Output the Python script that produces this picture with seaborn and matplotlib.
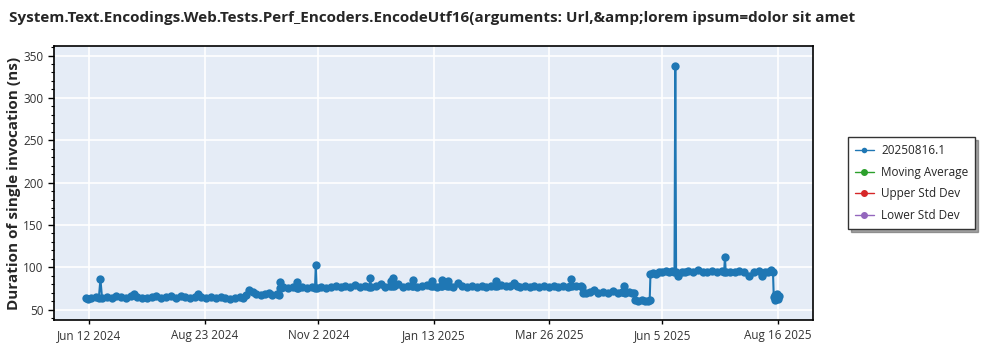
import matplotlib
matplotlib.use("Agg")
import matplotlib.pyplot as plt
import matplotlib.dates as mdates
from matplotlib.ticker import MultipleLocator
import pandas as pd
import seaborn as sns

title = "System.Text.Encodings.Web.Tests.Perf_Encoders.EncodeUtf16(arguments: Url,&amp;lorem ipsum=dolor sit amet"
y_label = "Duration of single invocation (ns)"
series_name = "20250816.1"
legend_extra = ["Moving Average", "Upper Std Dev", "Lower Std Dev"]
legend_colors = ["#1f77b4", "#2ca02c", "#d62728", "#9467bd"]

dates = [
    "2024-06-10", "2024-06-11", "2024-06-13", "2024-06-16", "2024-06-18", "2024-06-19", "2024-06-20",
    "2024-06-23", "2024-06-26", "2024-06-29", "2024-07-02", "2024-07-05", "2024-07-08", "2024-07-10",
    "2024-07-12", "2024-07-15", "2024-07-18", "2024-07-21", "2024-07-24", "2024-07-27", "2024-07-30",
    "2024-08-02", "2024-08-05", "2024-08-08", "2024-08-11", "2024-08-14", "2024-08-17", "2024-08-19",
    "2024-08-21", "2024-08-24", "2024-08-27", "2024-08-30", "2024-09-02", "2024-09-05", "2024-09-08",
    "2024-09-11", "2024-09-14", "2024-09-16", "2024-09-18", "2024-09-20", "2024-09-22", "2024-09-24",
    "2024-09-27", "2024-09-30", "2024-10-02", "2024-10-04", "2024-10-07", "2024-10-08 12:00",
    "2024-10-09 00:00", "2024-10-09 06:00", "2024-10-09 12:00", "2024-10-11", "2024-10-14", "2024-10-17",
    "2024-10-19 12:00", "2024-10-20", "2024-10-20 12:00", "2024-10-23", "2024-10-26", "2024-10-29",
    "2024-10-31", "2024-10-31 12:00", "2024-11-01", "2024-11-04", "2024-11-07", "2024-11-10",
    "2024-11-13", "2024-11-16", "2024-11-19", "2024-11-22", "2024-11-25", "2024-11-28", "2024-12-01",
    "2024-12-04", "2024-12-04 12:00", "2024-12-05", "2024-12-08", "2024-12-11", "2024-12-14",
    "2024-12-17", "2024-12-17 12:00", "2024-12-18", "2024-12-19", "2024-12-19 12:00", "2024-12-22",
    "2024-12-25", "2024-12-28", "2024-12-30 12:00", "2024-12-31", "2024-12-31 12:00", "2025-01-03",
    "2025-01-06", "2025-01-09", "2025-01-11 12:00", "2025-01-12", "2025-01-12 12:00", "2025-01-15",
    "2025-01-17 12:00", "2025-01-18", "2025-01-18 12:00", "2025-01-21 12:00", "2025-01-22",
    "2025-01-22 12:00", "2025-01-25", "2025-01-28", "2025-01-31", "2025-02-03", "2025-02-06",
    "2025-02-09", "2025-02-12", "2025-02-15", "2025-02-18", "2025-02-20 12:00", "2025-02-21",
    "2025-02-21 12:00", "2025-02-24", "2025-02-27", "2025-03-02", "2025-03-04", "2025-03-06",
    "2025-03-08", "2025-03-11", "2025-03-14", "2025-03-17", "2025-03-20", "2025-03-23", "2025-03-26",
    "2025-03-29", "2025-04-01", "2025-04-04", "2025-04-07", "2025-04-08 12:00", "2025-04-09",
    "2025-04-09 12:00", "2025-04-12", "2025-04-15", "2025-04-16", "2025-04-16 12:00", "2025-04-18",
    "2025-04-21", "2025-04-23", "2025-04-26", "2025-04-29", "2025-05-02", "2025-05-05", "2025-05-08",
    "2025-05-11", "2025-05-11 12:00", "2025-05-12", "2025-05-12 12:00", "2025-05-15", "2025-05-17",
    "2025-05-18 12:00", "2025-05-19", "2025-05-21", "2025-05-23", "2025-05-25", "2025-05-27",
    "2025-05-28", "2025-05-28 12:00", "2025-05-30", "2025-06-01", "2025-06-03", "2025-06-05",
    "2025-06-07", "2025-06-09", "2025-06-11", "2025-06-12 12:00", "2025-06-13", "2025-06-13 12:00",
    "2025-06-15", "2025-06-17", "2025-06-19", "2025-06-21", "2025-06-24", "2025-06-27", "2025-06-30",
    "2025-07-03", "2025-07-06", "2025-07-09", "2025-07-12", "2025-07-13 12:00", "2025-07-14",
    "2025-07-14 12:00", "2025-07-17", "2025-07-20", "2025-07-23", "2025-07-26", "2025-07-29",
    "2025-08-01", "2025-08-04", "2025-08-06", "2025-08-08", "2025-08-10", "2025-08-12", "2025-08-13",
    "2025-08-13 12:00", "2025-08-14", "2025-08-14 12:00", "2025-08-15", "2025-08-15 12:00",
    "2025-08-16", "2025-08-16 12:00",
]

values = [
    64, 63, 64, 65, 64, 86, 64,
    65, 64, 66, 65, 64, 66, 69,
    65, 64, 64, 65, 66, 64, 65,
    66, 64, 66, 65, 64, 65, 68,
    65, 64, 65, 64, 65, 64, 63,
    64, 65, 64, 67, 73, 71, 68,
    67, 68, 70, 67, 68, 67,
    76, 83, 76, 77, 76, 77,
    76, 83, 76, 77, 76, 77,
    76, 103, 76, 77, 76, 77,
    78, 77, 78, 77, 79, 77, 78,
    77, 88, 77, 78, 80, 77,
    78, 84, 78, 87, 78, 80,
    77, 78, 78, 85, 78, 77,
    78, 79, 78, 84, 78, 77,
    78, 85, 78, 78, 84,
    78, 77, 81, 78, 77, 78,
    77, 78, 77, 78, 78, 84,
    78, 79, 78, 78, 81, 78,
    77, 78, 77, 78, 77, 78, 77,
    78, 77, 78, 77, 78, 86,
    78, 78, 78, 77, 70, 70,
    71, 73, 70, 71, 70, 72, 70,
    71, 71, 78, 70, 71, 70,
    70, 61, 60, 61, 60, 60,
    61, 92, 93, 92, 94, 95,
    96, 95, 96, 95, 338, 95,
    90, 94, 95, 96, 95, 97, 95,
    94, 96, 95, 96, 95, 112,
    95, 94, 95, 96, 94, 90,
    95, 96, 90, 95, 94, 97, 95,
    65, 62, 67, 64, 68,
    63, 66,
]

df = pd.DataFrame({"date": pd.to_datetime(dates, format="mixed"), "value": values})

sns.set_style("white")
plt.rcParams["font.family"] = ["Open Sans", "DejaVu Sans"]

fig = plt.figure(figsize=(10, 3.5), dpi=100)
ax = fig.add_axes([0.054, 0.086, 0.759, 0.782])
ax.set_facecolor("#E5ECF6")

sns.lineplot(data=df, x="date", y="value", ax=ax, color=legend_colors[0],
             marker="o", markersize=6, markeredgewidth=0, linewidth=1.5,
             label=series_name)
for name, c in zip(legend_extra, legend_colors[1:]):
    ax.plot([], [], color=c, marker="o", markersize=4, linewidth=1, label=name)

ax.set_ylim(38, 361)
ax.set_xlim(pd.Timestamp("2024-05-21"), pd.Timestamp("2025-09-07"))
ax.yaxis.set_major_locator(MultipleLocator(50))
ax.yaxis.set_minor_locator(MultipleLocator(10))
tick_dates = pd.to_datetime(["2024-06-12", "2024-08-23", "2024-11-02", "2025-01-13",
                             "2025-03-26", "2025-06-05", "2025-08-16"])
ax.set_xticks(tick_dates)
ax.xaxis.set_major_formatter(mdates.DateFormatter("%b %-d %Y"))

ax.grid(True, which="major", color="white", linewidth=1.2)
ax.set_axisbelow(True)
for s in ax.spines.values():
    s.set_color("black")
    s.set_linewidth(1.2)
ax.tick_params(axis="y", which="major", length=4, width=1, color="black",
               labelsize=8.5, labelcolor="#333333", left=True)
ax.tick_params(axis="y", which="minor", length=2, width=0.8, color="black", left=True)
ax.tick_params(axis="x", which="major", length=3, width=1, color="black",
               labelsize=8.5, labelcolor="#333333", bottom=True)

ax.set_xlabel("")
ax.set_ylabel(y_label, fontsize=11, fontweight="bold")
ax.yaxis.set_label_coords(-0.043, 0.5)

fig.text(0.009, 0.948, title, fontsize=11, fontweight="bold", ha="left", va="center")

leg = ax.legend(loc="upper left", bbox_to_anchor=(1.046, 0.668), borderaxespad=0,
                frameon=True, fancybox=False, shadow=True, fontsize=8.5, borderpad=0.6,
                handlelength=1.6, labelspacing=0.72, handletextpad=0.6,
                edgecolor="#333333")
leg.get_frame().set_linewidth(1.0)
for h in leg.legend_handles:
    h.set_markersize(4)
    h.set_linewidth(1)

fig.savefig("out.png", dpi=100, facecolor="white")
